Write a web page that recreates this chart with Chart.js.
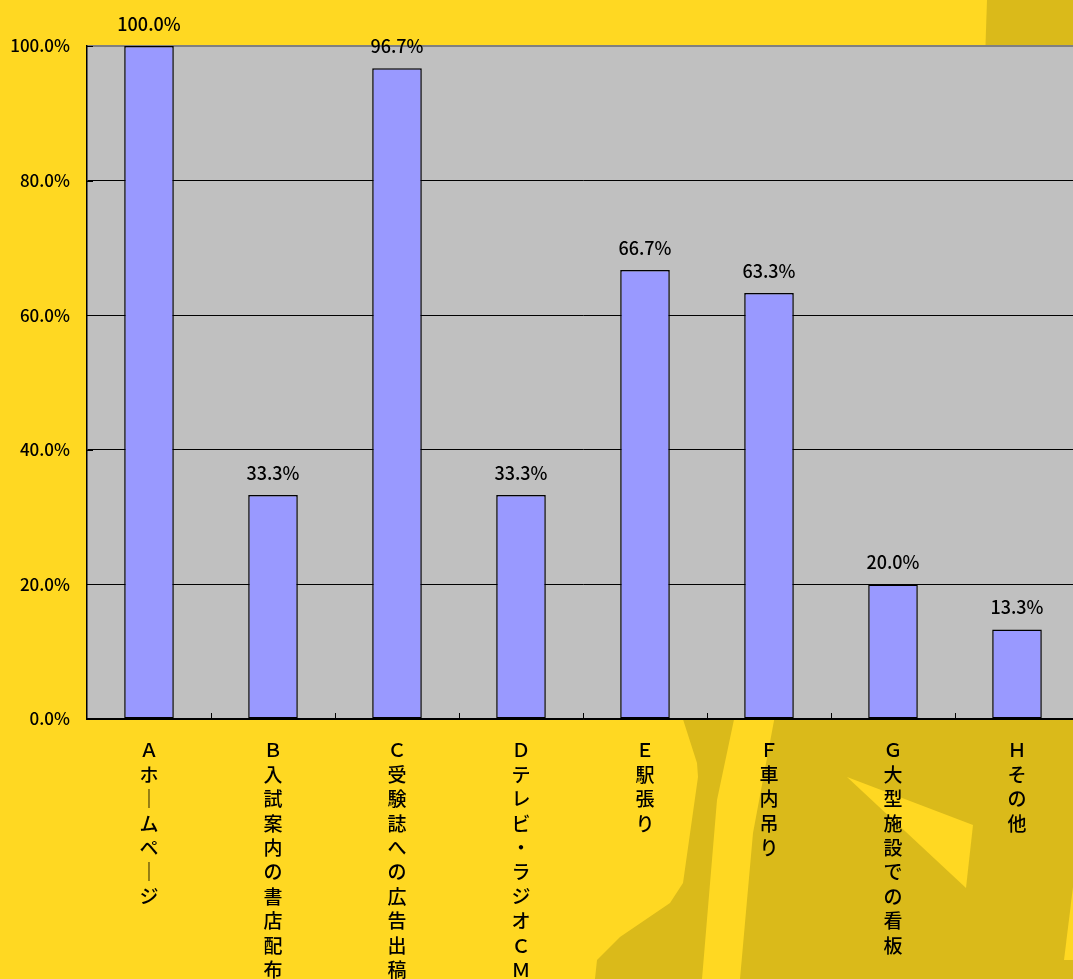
<!DOCTYPE html>
<html lang="ja">
<head>
<meta charset="utf-8">
<title>広告媒体別の割合</title>
<script src="https://cdn.jsdelivr.net/npm/chart.js@4.4.1/dist/chart.umd.min.js"></script>
<style>
  html, body { margin: 0; padding: 0; overflow: hidden; background: #FFD822; }
  canvas { display: block; }
</style>
</head>
<body>
<canvas id="grafica" width="1080" height="979"></canvas>
<script>
/* Datos: porcentaje por medio de difusión */
const CATEGORIAS = [
  'Ａホームページ',
  'Ｂ入試案内の書店配布',
  'Ｃ受験誌への広告出稿',
  'Ｄテレビ・ラジオＣＭ',
  'Ｅ駅張り',
  'Ｆ車内吊り',
  'Ｇ大型施設での看板',
  'Ｈその他',
];
const PORCENTAJES = [100.0, 33.3, 96.7, 33.3, 66.7, 63.3, 20.0, 13.3];
const TICKS_Y = [0, 20, 40, 60, 80, 100];

const AMARILLO = '#FFD822';
const AMARILLO_OSCURO = '#DABA1A';
const FUENTE = '"Noto Sans CJK JP", "Noto Sans", sans-serif';

// Etiquetas en vertical: un carácter por línea; el chōon se dibuja como trazo vertical
const etiquetasVerticales = CATEGORIAS.map(t => Array.from(t).map(c => (c === 'ー' ? '｜' : c)));

/* Fondo: amarillo con manchas más oscuras y zona de trazado gris */
const fondo = {
  id: 'fondo',
  beforeDraw(chart) {
    const { ctx, chartArea: a, width, height } = chart;
    const poligono = (pts, color) => {
      ctx.beginPath();
      pts.forEach(([x, y], i) => (i ? ctx.lineTo(x, y) : ctx.moveTo(x, y)));
      ctx.closePath();
      ctx.fillStyle = color;
      ctx.fill();
    };
    ctx.save();
    ctx.fillStyle = AMARILLO;
    ctx.fillRect(0, 0, width, height);
    poligono([[987, 0], [width, 0], [width, 60], [985, 60]], AMARILLO_OSCURO);
    poligono([[680, 710], [697, 763], [698, 777], [683, 883], [670, 903], [620, 937],
      [597, 960], [595, height], [width, height], [width, 710]], AMARILLO_OSCURO);
    poligono([[736, 710], [776, 710], [753, 833], [740, height], [702, height], [717, 800]], AMARILLO);
    poligono([[847, 777], [973, 825], [966, 888]], AMARILLO);
    poligono([[1073, 887], [width, 880], [width, 960], [1064, 960]], AMARILLO);
    ctx.fillStyle = '#C0C0C0';
    ctx.fillRect(a.left, a.top, a.right - a.left, a.bottom - a.top);
    ctx.restore();
  },
};

/* Marcas de escala hacia dentro del área (estilo hoja de cálculo) */
const marcasInternas = {
  id: 'marcasInternas',
  afterDraw(chart) {
    const { ctx, chartArea: a, scales: { x, y } } = chart;
    ctx.save();
    ctx.strokeStyle = '#000';
    ctx.lineWidth = 1;
    ctx.beginPath();
    y.ticks.forEach((t, i) => {
      const py = Math.round(y.getPixelForTick(i)) + 0.5;
      ctx.moveTo(a.left, py);
      ctx.lineTo(a.left + 6, py);
    });
    for (let i = 0; i < CATEGORIAS.length - 1; i++) {
      const px = Math.round((x.getPixelForValue(i) + x.getPixelForValue(i + 1)) / 2) + 0.5;
      ctx.moveTo(px, a.bottom);
      ctx.lineTo(px, a.bottom - 6);
    }
    ctx.stroke();
    ctx.restore();
  },
};

/* Valor encima de cada barra */
const valores = {
  id: 'valores',
  afterDatasetsDraw(chart) {
    const { ctx } = chart;
    const meta = chart.getDatasetMeta(0);
    ctx.save();
    ctx.font = '500 18px ' + FUENTE;
    ctx.fillStyle = '#000';
    ctx.textAlign = 'center';
    ctx.textBaseline = 'middle';
    meta.data.forEach((barra, i) => {
      ctx.fillText(PORCENTAJES[i].toFixed(1) + '%', barra.x, barra.y - 22);
    });
    ctx.restore();
  },
};

new Chart(document.getElementById('grafica'), {
  type: 'bar',
  data: {
    labels: etiquetasVerticales,
    datasets: [{
      data: PORCENTAJES,
      backgroundColor: '#9999FF',
      borderColor: '#000',
      borderWidth: 1.5,
      borderSkipped: false,
      barPercentage: 0.4,
      categoryPercentage: 1,
    }],
  },
  options: {
    responsive: false,
    animation: false,
    devicePixelRatio: 1,
    layout: { padding: { top: 46, right: 1, left: 0, bottom: 0 } },
    plugins: { legend: { display: false }, tooltip: { enabled: false } },
    scales: {
      x: {
        grid: { display: false, drawTicks: false },
        border: { display: true, color: '#000', width: 1.5 },
        ticks: {
          color: '#000',
          padding: 19,
          autoSkip: false,
          minRotation: 0,
          maxRotation: 0,
          font: { family: FUENTE, size: 19, weight: '500', lineHeight: '24.4px' },
        },
        afterFit: (s) => { s.height = 260; },
      },
      y: {
        min: TICKS_Y[0],
        max: TICKS_Y[TICKS_Y.length - 1],
        grid: {
          drawTicks: false,
          color: (c) => (c.tick && c.tick.value === 100 ? '#808080' : '#000'),
          lineWidth: (c) => (c.tick && c.tick.value === 100 ? 2 : 1),
        },
        border: { display: true, color: '#000', width: 1.5 },
        ticks: {
          stepSize: TICKS_Y[1] - TICKS_Y[0],
          color: '#000',
          padding: 17,
          font: { family: FUENTE, size: 17, weight: '500' },
          callback: (v) => Number(v).toFixed(1) + '%',
        },
        afterFit: (s) => { s.width = 87; },
      },
    },
  },
  plugins: [fondo, marcasInternas, valores],
});
</script>
</body>
</html>
